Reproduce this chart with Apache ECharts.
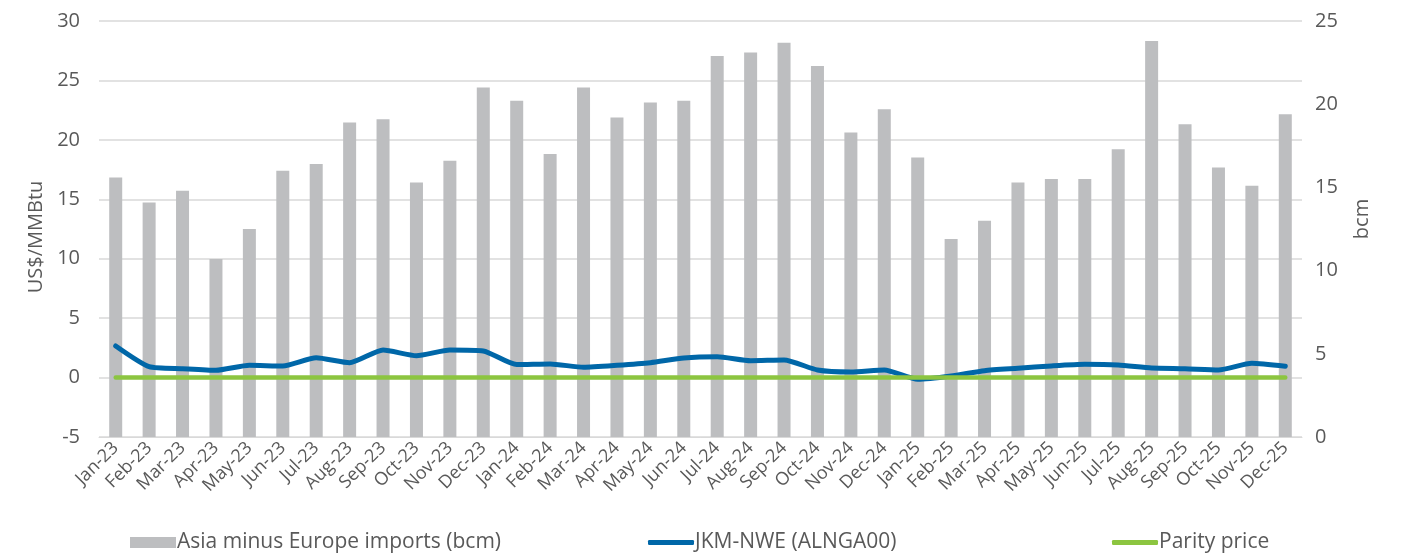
<!DOCTYPE html>
<html>
<head>
<meta charset="utf-8">
<script src="https://cdn.jsdelivr.net/npm/echarts@6/dist/echarts.min.js"></script>
<style>
  html, body { margin: 0; padding: 0; background: #ffffff; }
  #chart { width: 1408px; height: 556px; }
</style>
</head>
<body>
<div id="chart"></div>
<script>
// Monthly categories, Jan-23 to Dec-25
const months = [
  'Jan-23','Feb-23','Mar-23','Apr-23','May-23','Jun-23','Jul-23','Aug-23','Sep-23','Oct-23','Nov-23','Dec-23',
  'Jan-24','Feb-24','Mar-24','Apr-24','May-24','Jun-24','Jul-24','Aug-24','Sep-24','Oct-24','Nov-24','Dec-24',
  'Jan-25','Feb-25','Mar-25','Apr-25','May-25','Jun-25','Jul-25','Aug-25','Sep-25','Oct-25','Nov-25','Dec-25'
];

// Asia minus Europe LNG imports, bcm (right axis)
const asiaMinusEurope = [
  15.6, 14.1, 14.8, 10.7, 12.5, 16.0, 16.4, 18.9, 19.1, 15.3, 16.6, 21.0,
  20.2, 17.0, 21.0, 19.2, 20.1, 20.2, 22.9, 23.1, 23.7, 22.3, 18.3, 19.7,
  16.8, 11.9, 13.0, 15.3, 15.5, 15.5, 17.3, 23.8, 18.8, 16.2, 15.1, 19.4
];

// JKM minus NWE spread, US$/MMBtu (left axis)
const jkmNwe = [
  2.66, 0.92, 0.75, 0.61, 1.03, 0.98, 1.67, 1.25, 2.32, 1.84, 2.32, 2.24,
  1.09, 1.14, 0.87, 1.03, 1.25, 1.65, 1.76, 1.42, 1.48, 0.64, 0.47, 0.64,
  -0.14, 0.13, 0.58, 0.78, 0.98, 1.12, 1.06, 0.81, 0.75, 0.64, 1.20, 0.95
];

// Parity price, US$/MMBtu (left axis)
const parity = months.map(() => 0);

const priceTicks = { min: -5, max: 30, interval: 5 };
const volumeTicks = { min: 0, max: 25, interval: 5 };

const textColor = '#595959';
const gridColor = '#d9d9d9';
const font = '"Open Sans", "Noto Sans", sans-serif';

const chart = echarts.init(document.getElementById('chart'), null, { renderer: 'canvas' });

const legendBase = {
  orient: 'horizontal',
  top: 527,
  itemGap: 0,
  icon: 'rect',
  itemWidth: 46,
  itemHeight: 11,
  textStyle: { color: textColor, fontSize: 21, fontFamily: font, padding: [0, 0, 0, -4] }
};

chart.setOption({
  backgroundColor: '#ffffff',
  animation: false,
  textStyle: { fontFamily: font },
  grid: { left: 99, right: 106, top: 21, bottom: 119, containLabel: false },
  legend: [
    Object.assign({}, legendBase, { left: 125, data: ['Asia minus Europe imports (bcm)'] }),
    Object.assign({}, legendBase, {
      left: 643, itemHeight: 5,
      data: [{ name: 'JKM-NWE (ALNGA00)', icon: 'roundRect' }]
    }),
    Object.assign({}, legendBase, {
      left: 1107, itemHeight: 5,
      data: [{ name: 'Parity price', icon: 'roundRect' }]
    })
  ],
  xAxis: {
    type: 'category',
    data: months,
    boundaryGap: true,
    axisLine: { show: true, onZero: false, lineStyle: { color: gridColor, width: 1 } },
    axisTick: { show: false },
    axisLabel: {
      rotate: 45,
      margin: 8,
      interval: 0,
      color: textColor,
      fontSize: 18,
      fontFamily: font
    },
    splitLine: { show: false }
  },
  yAxis: [
    {
      type: 'value',
      position: 'left',
      min: priceTicks.min,
      max: priceTicks.max,
      interval: priceTicks.interval,
      name: 'US$/MMBtu',
      nameLocation: 'middle',
      nameRotate: 90,
      nameGap: 52,
      nameTextStyle: { color: textColor, fontSize: 20, fontFamily: font, padding: [0, 16, 0, 0] },
      axisLine: { show: false },
      axisTick: { show: false },
      axisLabel: { color: textColor, fontSize: 20, fontFamily: font, margin: 19, padding: [0, 0, 7, 0] },
      splitLine: { show: true, lineStyle: { color: gridColor, width: 1.5 } }
    },
    {
      type: 'value',
      position: 'right',
      min: volumeTicks.min,
      max: volumeTicks.max,
      interval: volumeTicks.interval,
      name: 'bcm',
      nameLocation: 'middle',
      nameRotate: 90,
      nameGap: 50,
      nameTextStyle: { color: textColor, fontSize: 20, fontFamily: font, padding: [0, 0, 0, 20] },
      axisLine: { show: false },
      axisTick: { show: false },
      axisLabel: { color: textColor, fontSize: 20, fontFamily: font, margin: 13, padding: [0, 0, 8, 0] },
      splitLine: { show: false }
    }
  ],
  series: [
    {
      name: 'Asia minus Europe imports (bcm)',
      type: 'bar',
      yAxisIndex: 1,
      data: asiaMinusEurope,
      barWidth: 13,
      itemStyle: { color: '#bdbec0' },
      z: 1
    },
    {
      name: 'JKM-NWE (ALNGA00)',
      type: 'line',
      yAxisIndex: 0,
      data: jkmNwe,
      smooth: 0.2,
      showSymbol: false,
      symbol: 'none',
      lineStyle: { color: '#0067a8', width: 5, cap: 'round', join: 'round' },
      itemStyle: { color: '#0067a8' },
      z: 3
    },
    {
      name: 'Parity price',
      type: 'line',
      yAxisIndex: 0,
      data: parity,
      showSymbol: false,
      symbol: 'none',
      lineStyle: { color: '#8cc540', width: 4.5, cap: 'round' },
      itemStyle: { color: '#8cc540' },
      z: 4
    }
  ]
});
</script>
</body>
</html>
